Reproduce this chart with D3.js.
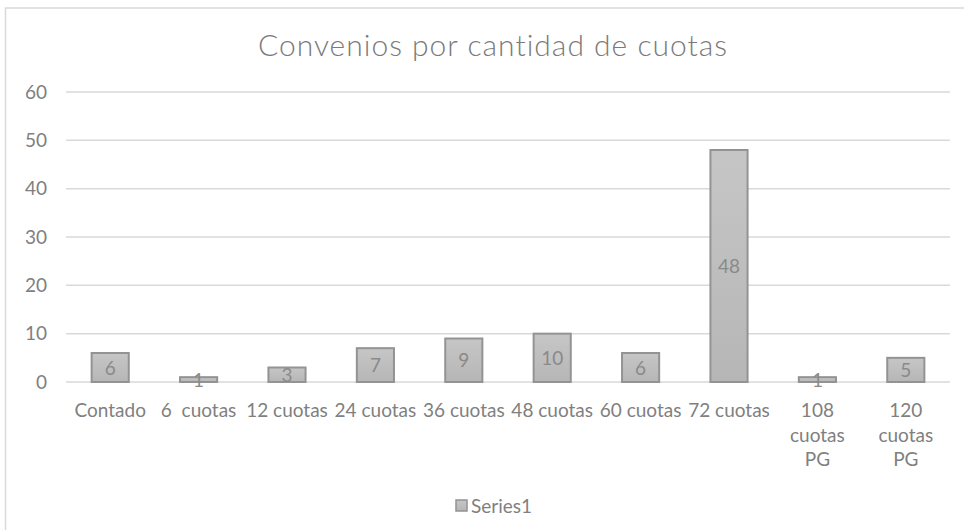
<!DOCTYPE html>
<html>
<head>
<meta charset="utf-8">
<script src="https://cdn.jsdelivr.net/npm/d3@7"></script>
<style>
  body { margin: 0; background: #fff; }
  svg { display: block; font-family: Lato, "Open Sans", sans-serif; }
</style>
</head>
<body>
<svg id="chart" width="964" height="530"></svg>
<script>
// chart data
var categories = ["Contado", "6  cuotas", "12 cuotas", "24 cuotas", "36 cuotas", "48 cuotas",
                  "60 cuotas", "72 cuotas", "108 cuotas PG", "120 cuotas PG"]
var values = [6, 1, 3, 7, 9, 10, 6, 48, 1, 5]
var yTicks = [0, 10, 20, 30, 40, 50, 60]
var seriesName = "Series1"
var title = "Convenios por cantidad de cuotas"

var svg = d3.select("#chart")
var plotLeft = 66, plotRight = 950, plotTop = 92, plotBottom = 382

// outer frame
svg.append("rect")
    .attr("x", 5.5).attr("y", 8)
    .attr("width", 1000).attr("height", 600)
    .attr("fill", "#fff")
    .attr("stroke", "#d9d9d9")
    .attr("stroke-width", 1.5)

var defs = svg.append("defs")
var grad = defs.append("linearGradient")
    .attr("id", "barFill")
    .attr("x1", 0).attr("y1", 0).attr("x2", 0).attr("y2", 1)
grad.append("stop").attr("offset", "0%").attr("stop-color", "#c6c6c6")
grad.append("stop").attr("offset", "100%").attr("stop-color", "#b6b6b6")

var x = d3.scaleBand().domain(categories).range([plotLeft, plotRight])
    .paddingInner(0.58).paddingOuter(0.29)
var y = d3.scaleLinear().domain([0, 60]).range([plotBottom, plotTop])

// title
svg.append("text")
    .attr("x", 493).attr("y", 56)
    .attr("text-anchor", "middle")
    .attr("fill", "#7a7a7a")
    .style("font-size", "30px")
    .style("font-weight", 300)
    .style("letter-spacing", "1px")
    .text(title)

// gridlines
svg.append("g").selectAll("line")
    .data(yTicks)
    .enter().append("line")
    .attr("x1", plotLeft).attr("x2", plotRight)
    .attr("y1", function(d) { return y(d) }).attr("y2", function(d) { return y(d) })
    .attr("stroke", "#d9d9d9")
    .attr("stroke-width", 1.5)

// y axis labels
var yAxis = svg.append("g")
    .attr("transform", "translate(47,0)")
    .call(d3.axisLeft(y).tickValues(yTicks).tickSize(0).tickPadding(0))
yAxis.select(".domain").remove()
yAxis.selectAll("text")
    .attr("fill", "#808080")
    .style("font-size", "19px")
    .style("font-family", "Lato, sans-serif")

// bars
svg.append("g").selectAll("rect")
    .data(values)
    .enter().append("rect")
    .attr("x", function(d, i) { return x(categories[i]) })
    .attr("y", function(d) { return y(d) })
    .attr("width", x.bandwidth())
    .attr("height", function(d) { return y(0) - y(d) })
    .attr("fill", "url(#barFill)")
    .attr("stroke", "#939393")
    .attr("stroke-width", 2)

// data labels, centered in the bar
svg.append("g").selectAll("text")
    .data(values)
    .enter().append("text")
    .attr("x", function(d, i) { return x(categories[i]) + x.bandwidth() / 2 })
    .attr("y", function(d) { return (y(d) + y(0)) / 2 + 7 })
    .attr("text-anchor", "middle")
    .attr("fill", "#8a8a8a")
    .style("font-size", "19px")
    .text(function(d) { return d })

// x axis labels (wrap long ones word by word)
var xAxis = svg.append("g")
    .attr("transform", "translate(0," + plotBottom + ")")
    .call(d3.axisBottom(x).tickSize(0).tickPadding(0))
xAxis.select(".domain").remove()
xAxis.selectAll("text").each(function(d) {
    var t = d3.select(this)
    t.text(null)
        .attr("y", 35).attr("dy", null)
        .attr("fill", "#808080")
        .style("font-size", "19px")
        .style("font-family", "Lato, sans-serif")
    var words = d.split(" ").filter(function(w) { return w.length })
    var lines = words.length > 2 ? words : [d]
    lines.forEach(function(line, k) {
        t.append("tspan")
            .attr("x", 0)
            .attr("dy", k == 0 ? 0 : 24.5)
            .attr("xml:space", "preserve")
            .text(line)
    })
})

// legend
var legend = svg.append("g").attr("transform", "translate(456,500)")
legend.append("rect")
    .attr("width", 11).attr("height", 11)
    .attr("fill", "url(#barFill)")
    .attr("stroke", "#939393")
    .attr("stroke-width", 1.5)
legend.append("text")
    .attr("x", 15).attr("y", 13)
    .attr("fill", "#808080")
    .style("font-size", "19px")
    .text(seriesName)
</script>
</body>
</html>
